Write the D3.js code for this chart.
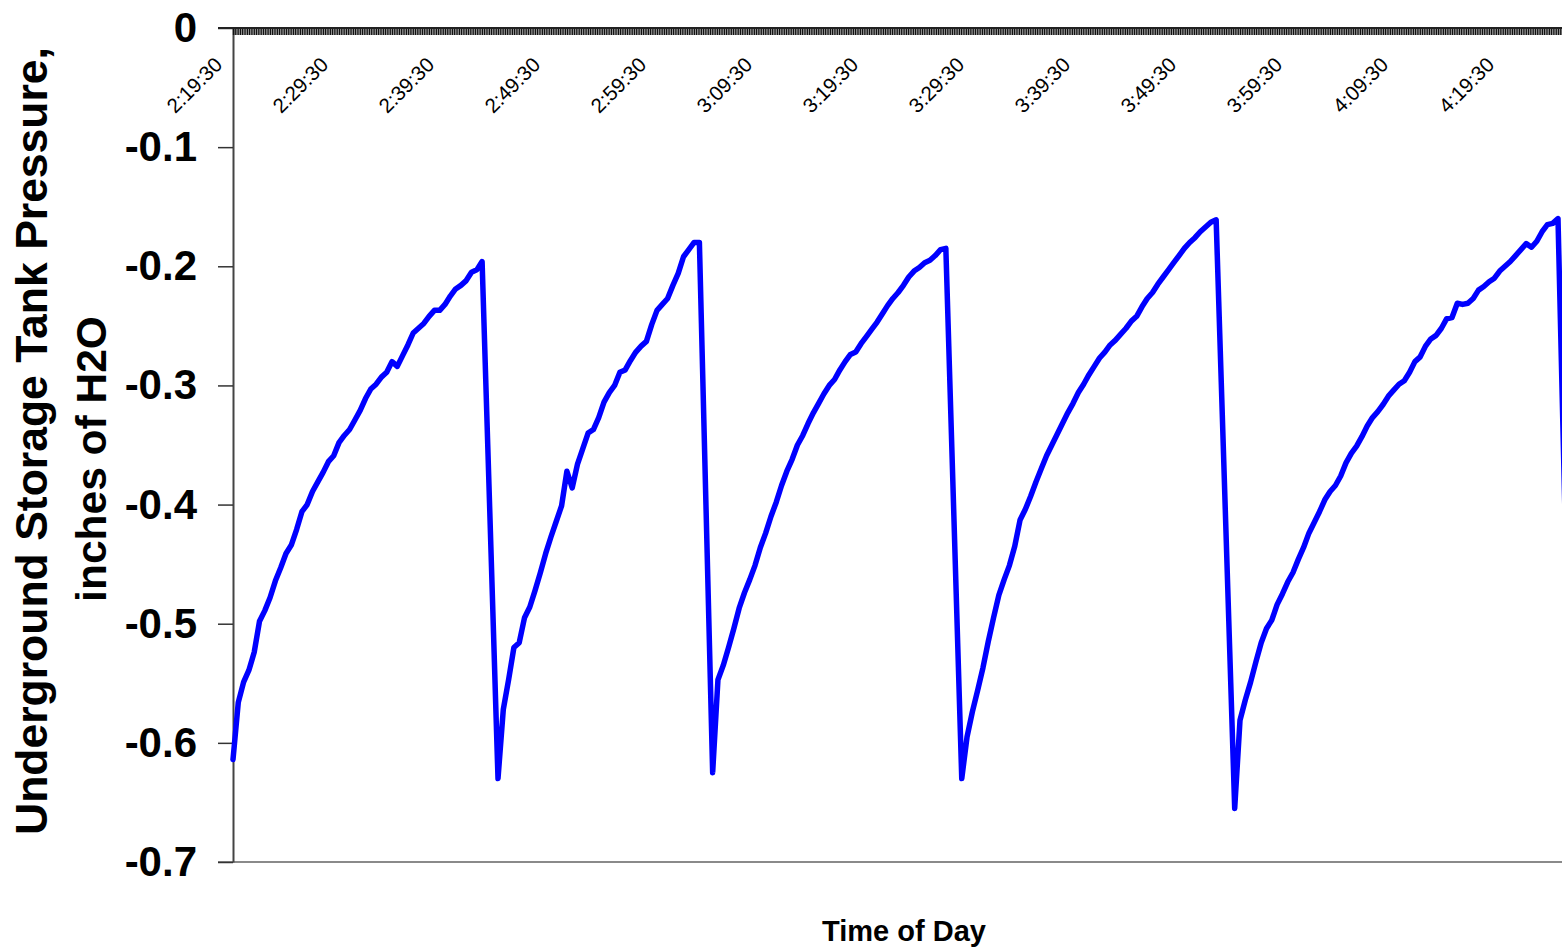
<!DOCTYPE html>
<html>
<head>
<meta charset="utf-8">
<script src="https://cdn.jsdelivr.net/npm/d3@7"></script>
<style>
  html, body { margin: 0; padding: 0; background: #fff; }
  svg { display: block; }
  text { font-family: Arial, "Liberation Sans", sans-serif; }
</style>
</head>
<body>
<svg id="chart" width="1562" height="948"></svg>
<script>
// Tank pressure logged every 30 s; each refill cycle is a separate run
// that starts at the low point right after the purge drop.
const sampleSeconds = 30;

const rise1Start = "2:19:30";
const rise1 = [-0.614, -0.566, -0.549, -0.539, -0.524, -0.498, -0.489, -0.478, -0.464, -0.453,
  -0.441, -0.434, -0.421, -0.406, -0.400, -0.389, -0.381, -0.373, -0.364, -0.359,
  -0.348, -0.342, -0.337, -0.329, -0.321, -0.311, -0.303, -0.299, -0.293, -0.289,
  -0.280, -0.284, -0.275, -0.266, -0.256, -0.252, -0.248, -0.242, -0.237, -0.237,
  -0.232, -0.225, -0.219, -0.216, -0.212, -0.205, -0.203, -0.196];

const rise2Start = "2:44:30";
const rise2 = [-0.630, -0.572, -0.547, -0.520, -0.516, -0.495, -0.486, -0.472, -0.457, -0.441,
  -0.427, -0.414, -0.401, -0.372, -0.386, -0.366, -0.353, -0.340, -0.337, -0.327,
  -0.314, -0.306, -0.300, -0.289, -0.287, -0.279, -0.272, -0.267, -0.263, -0.249,
  -0.237, -0.232, -0.227, -0.216, -0.206, -0.192, -0.186, -0.180, -0.180];

const rise3Start = "3:04:45";
const rise3 = [-0.625, -0.547, -0.535, -0.520, -0.504, -0.487, -0.474, -0.463, -0.451, -0.436,
  -0.424, -0.410, -0.398, -0.384, -0.372, -0.362, -0.350, -0.342, -0.332, -0.323,
  -0.315, -0.307, -0.300, -0.295, -0.287, -0.280, -0.274, -0.272, -0.265, -0.259,
  -0.253, -0.247, -0.240, -0.233, -0.227, -0.222, -0.216, -0.209, -0.204, -0.201,
  -0.197, -0.195, -0.191, -0.186, -0.185];

const rise4Start = "3:28:15";
const rise4 = [-0.630, -0.595, -0.574, -0.556, -0.537, -0.515, -0.495, -0.476, -0.463, -0.451,
  -0.435, -0.413, -0.404, -0.393, -0.381, -0.370, -0.359, -0.350, -0.341, -0.332,
  -0.323, -0.315, -0.306, -0.299, -0.291, -0.284, -0.277, -0.272, -0.266, -0.262,
  -0.257, -0.252, -0.246, -0.242, -0.234, -0.227, -0.222, -0.215, -0.209, -0.203,
  -0.197, -0.191, -0.185, -0.180, -0.176, -0.171, -0.167, -0.163, -0.161];

const rise5Start = "3:54:00";
const rise5 = [-0.655, -0.581, -0.564, -0.549, -0.532, -0.516, -0.504, -0.497, -0.484, -0.475,
  -0.465, -0.457, -0.446, -0.436, -0.424, -0.415, -0.406, -0.396, -0.389, -0.384,
  -0.376, -0.365, -0.357, -0.351, -0.343, -0.334, -0.327, -0.322, -0.316, -0.309,
  -0.304, -0.299, -0.296, -0.289, -0.280, -0.276, -0.267, -0.261, -0.258, -0.252,
  -0.244, -0.243, -0.231, -0.232, -0.231, -0.227, -0.220, -0.217, -0.213, -0.210,
  -0.204, -0.200, -0.196, -0.191, -0.186, -0.181, -0.184, -0.179, -0.171, -0.165,
  -0.164, -0.160];

const rise6Start = "4:25:45";
const rise6 = [-0.630];

const axisStart = "2:19:30";
const axisEnd = "4:26:00";
const xLabels = ["2:19:30", "2:29:30", "2:39:30", "2:49:30", "2:59:30", "3:09:30", "3:19:30",
  "3:29:30", "3:39:30", "3:49:30", "3:59:30", "4:09:30", "4:19:30"];
const yTicks = [0, -0.1, -0.2, -0.3, -0.4, -0.5, -0.6, -0.7];

const parseTime = d3.timeParse("%H:%M:%S");
const formatTime = d3.timeFormat("%-H:%M:%S");

const runs = [[rise1Start, rise1], [rise2Start, rise2], [rise3Start, rise3],
              [rise4Start, rise4], [rise5Start, rise5], [rise6Start, rise6]];
const series = runs.flatMap(([start, vals]) => {
  const s0 = parseTime(start);
  return vals.map((v, k) => ({ t: d3.timeSecond.offset(s0, k * sampleSeconds), v }));
});

const plotLeft = 233, plotTop = 28, plotBottom = 862, svgW = 1562;
const pxPerMinute = 10.6;
const tStart = parseTime(axisStart), tEnd = parseTime(axisEnd);
const x = d3.scaleTime()
  .domain([tStart, tEnd])
  .range([plotLeft, plotLeft + pxPerMinute * (tEnd - tStart) / 60000]);
const y = d3.scaleLinear().domain([-0.7, 0]).range([plotBottom, plotTop]);

const svg = d3.select("#chart");
svg.append("rect").attr("width", svgW).attr("height", 948).attr("fill", "#fff");

// bottom edge of the plot area
svg.append("line")
  .attr("x1", plotLeft - 15).attr("x2", svgW)
  .attr("y1", y(-0.7)).attr("y2", y(-0.7))
  .attr("stroke", "#8a8a8a").attr("stroke-width", 2);

// value axis
const yAxis = svg.append("g")
  .attr("transform", `translate(${plotLeft},0)`)
  .call(d3.axisLeft(y).tickValues(yTicks).tickSize(15).tickSizeOuter(0).tickPadding(21)
    .tickFormat(v => v === 0 ? "0" : v.toFixed(1)));
yAxis.select(".domain").attr("stroke", "#444").attr("stroke-width", 2);
yAxis.selectAll(".tick line").attr("stroke", "#333").attr("stroke-width", 1.5);
yAxis.selectAll(".tick text")
  .attr("font-size", 42).attr("font-weight", "bold").attr("fill", "#000")
  .style("font-family", "Arial, 'Liberation Sans', sans-serif");

// time axis along the zero line: one tick per logged interval of 10 s
const tickAxis = svg.append("g")
  .attr("transform", `translate(0,${plotTop})`)
  .call(d3.axisTop(x).ticks(d3.timeSecond.every(10)).tickSize(-7).tickSizeOuter(0).tickFormat(""));
tickAxis.select(".domain").remove();
tickAxis.selectAll(".tick line").attr("stroke", "#111").attr("stroke-width", 1.3);
svg.append("line")
  .attr("x1", plotLeft - 15).attr("x2", svgW)
  .attr("y1", plotTop).attr("y2", plotTop)
  .attr("stroke", "#222").attr("stroke-width", 2);

const labelAxis = svg.append("g")
  .attr("transform", `translate(0,${plotTop})`)
  .call(d3.axisBottom(x).tickValues(xLabels.map(parseTime)).tickSize(0).tickFormat(formatTime));
labelAxis.select(".domain").remove();
labelAxis.selectAll(".tick text")
  .attr("x", 0).attr("y", 0).attr("dy", 0)
  .attr("transform", "translate(-10,38) rotate(-45)")
  .attr("text-anchor", "end")
  .attr("font-size", 20.5).attr("fill", "#000")
  .style("font-family", "Arial, 'Liberation Sans', sans-serif");

// pressure trace
const pressureLine = d3.line().x(d => x(d.t)).y(d => y(d.v));
svg.append("path")
  .datum(series)
  .attr("d", pressureLine)
  .attr("fill", "none")
  .attr("stroke", "#0000ff")
  .attr("stroke-width", 5.5)
  .attr("stroke-linejoin", "round")
  .attr("stroke-linecap", "round");

// axis titles
svg.append("text")
  .attr("transform", "translate(47,441) rotate(-90)")
  .attr("text-anchor", "middle")
  .attr("font-size", 44.5).attr("font-weight", "bold")
  .text("Underground Storage Tank Pressure,");
svg.append("text")
  .attr("transform", "translate(106,459) rotate(-90)")
  .attr("text-anchor", "middle")
  .attr("font-size", 42.5).attr("font-weight", "bold")
  .text("inches of H2O");
svg.append("text")
  .attr("x", 904).attr("y", 941)
  .attr("text-anchor", "middle")
  .attr("font-size", 29).attr("font-weight", "bold")
  .text("Time of Day");
</script>
</body>
</html>
